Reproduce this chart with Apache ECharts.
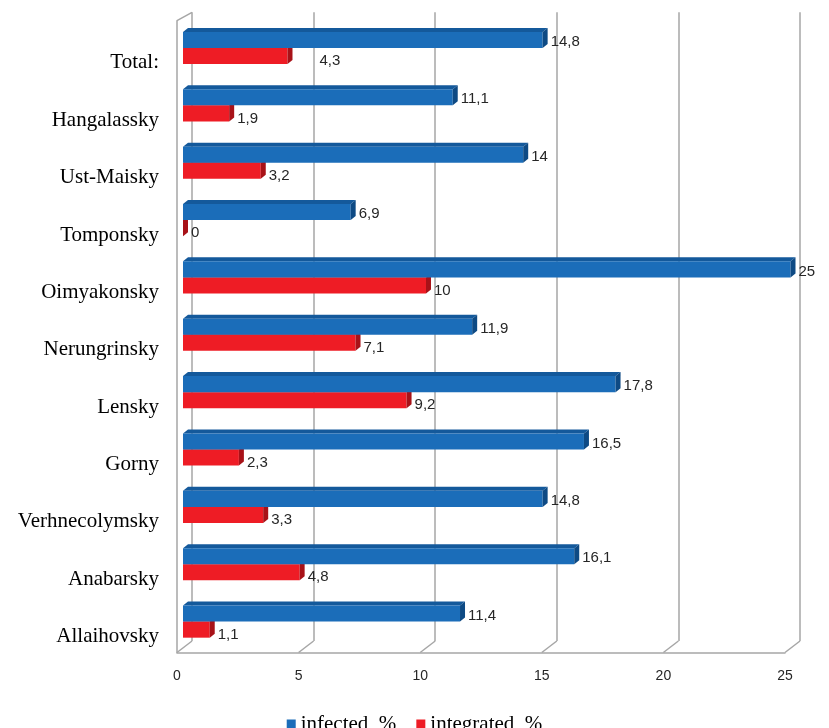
<!DOCTYPE html>
<html>
<head>
<meta charset="utf-8">
<script src="https://cdn.jsdelivr.net/npm/echarts@6/dist/echarts.min.js"></script>
<style>
  html, body { margin: 0; padding: 0; background: #fff; }
  #chart { width: 829px; height: 728px; }
</style>
</head>
<body>
<div id="chart"></div>
<script>
// Districts, top to bottom
const categories = ['Total:', 'Hangalassky', 'Ust-Maisky', 'Tomponsky', 'Oimyakonsky',
  'Nerungrinsky', 'Lensky', 'Gorny', 'Verhnecolymsky', 'Anabarsky', 'Allaihovsky'];
// Share of infected, %
const infected = [14.8, 11.1, 14, 6.9, 25, 11.9, 17.8, 16.5, 14.8, 16.1, 11.4];
// Share of integrated, %
const integrated = [4.3, 1.9, 3.2, 0, 10, 7.1, 9.2, 2.3, 3.3, 4.8, 1.1];
// Value axis
const axisMin = 0, axisMax = 25, axisStep = 5;
const seriesNames = ['infected, %', 'integrated, %'];

// Horizontal nudge (px) for value labels that sit apart from their bar end
const labelNudge = { integrated: { 'Total:': 24 } };

const DX = 5, DY = 4;          // depth of the extruded bars
const BAR_FRAC = 0.28;         // bar thickness as share of a category band
const gridColor = '#a6a6a6';
const serif = '"Liberation Serif", "Times New Roman", serif';
const sans = '"Liberation Sans", Arial, sans-serif';

const blue = { front: '#1b6db9', top: '#14599b', side: '#0e4a84' };
const red = { front: '#ee1c25', top: '#c4161d', side: '#a81218' };

function fmt(v) { return String(v).replace('.', ','); }

function bar3D(colors, upper, nudge, labelDy) {
  return function (params, api) {
    const v = api.value(0), c = api.value(1);
    const p0 = api.coord([0, c]);
    const p1 = api.coord([v, c]);
    const h = api.size([0, 1])[1] * BAR_FRAC;
    const yTop = upper ? p0[1] - h : p0[1];
    const yBot = yTop + h;
    const x0 = p0[0], x1 = p1[0];
    const extra = nudge[categories[c]] || 0;
    return {
      type: 'group',
      children: [
        { type: 'polygon', shape: { points: [[x0, yTop], [x1, yTop], [x1 + DX, yTop - DY], [x0 + DX, yTop - DY]] },
          style: { fill: colors.top } },
        { type: 'rect', shape: { x: x0, y: yTop, width: Math.max(0, x1 - x0), height: h },
          style: { fill: colors.front } },
        { type: 'polygon', shape: { points: [[x1, yTop], [x1 + DX, yTop - DY], [x1 + DX, yBot - DY], [x1, yBot]] },
          style: { fill: colors.side } },
        { type: 'text', x: x1 + DX + 3 + extra, y: yTop + h / 2 + labelDy,
          style: { text: fmt(v), fill: '#262626', font: '15px ' + sans,
                   textAlign: 'left', textVerticalAlign: 'middle' } }
      ]
    };
  };
}

const chart = echarts.init(document.getElementById('chart'));

chart.setOption({
  animation: false,
  backgroundColor: '#fff',
  legend: {
    data: seriesNames,
    left: 'center',
    top: 708,
    icon: 'rect',
    itemWidth: 9,
    itemHeight: 9,
    itemGap: 20,
    textStyle: { fontFamily: serif, fontSize: 21, color: '#000', lineHeight: 22 }
  },
  grid: [
    // back wall
    { left: 192, width: 608, top: 12.3, height: 628.7 },
    // bars
    { left: 183, width: 607.5, top: 19.3, height: 631 },
    // front edge of floor and side wall
    { left: 177, width: 608, top: 20.7, height: 631.8 },
    // category names along the front of the floor
    { left: 183, width: 607.5, top: 34.3, height: 631 }
  ],
  xAxis: [
    { gridIndex: 0, type: 'value', min: axisMin, max: axisMax, interval: axisStep,
      axisLine: { show: false }, axisTick: { show: false }, axisLabel: { show: false },
      splitLine: { show: true, lineStyle: { color: gridColor, width: 1.5 } } },
    { gridIndex: 1, type: 'value', min: axisMin, max: axisMax, interval: axisStep,
      axisLine: { show: false }, axisTick: { show: false }, axisLabel: { show: false },
      splitLine: { show: false } },
    { gridIndex: 2, type: 'value', min: axisMin, max: axisMax, interval: axisStep,
      axisLine: { show: true, lineStyle: { color: gridColor, width: 1.5 } },
      axisTick: { show: false },
      axisLabel: { margin: 17, color: '#262626', fontSize: 14, fontFamily: sans },
      splitLine: { show: false } },
    { gridIndex: 3, type: 'value', min: axisMin, max: axisMax, show: false }
  ],
  yAxis: [
    { gridIndex: 0, type: 'value', min: 0, max: 1, show: false },
    { gridIndex: 1, type: 'category', data: categories, inverse: true, show: false },
    { gridIndex: 2, type: 'value', min: 0, max: 1,
      axisLine: { show: true, lineStyle: { color: gridColor, width: 1.5 } },
      axisTick: { show: false }, axisLabel: { show: false }, splitLine: { show: false } },
    { gridIndex: 3, type: 'category', data: categories, inverse: true,
      axisLine: { show: false }, axisTick: { show: false },
      axisLabel: { margin: 24, color: '#000', fontSize: 21, fontFamily: serif } }
  ],
  series: [
    { name: seriesNames[1], type: 'custom', xAxisIndex: 1, yAxisIndex: 1, z: 2,
      itemStyle: { color: red.front },
      renderItem: bar3D(red, false, labelNudge.integrated, 5),
      data: integrated.map((v, i) => [v, i]) },
    { name: seriesNames[0], type: 'custom', xAxisIndex: 1, yAxisIndex: 1, z: 3,
      itemStyle: { color: blue.front },
      renderItem: bar3D(blue, true, {}, 2),
      data: infected.map((v, i) => [v, i]) }
  ]
});

// Floor diagonals and the top edge of the side wall, placed through the axes
const edges = [];
for (let v = axisMin; v <= axisMax; v += axisStep) {
  const back = chart.convertToPixel({ gridIndex: 0 }, [v, 0]);
  const front = chart.convertToPixel({ gridIndex: 2 }, [v, 0]);
  edges.push({ type: 'line', shape: { x1: back[0], y1: back[1], x2: front[0], y2: front[1] },
    style: { stroke: gridColor, lineWidth: 1.5 }, z: 0 });
}
const backTop = chart.convertToPixel({ gridIndex: 0 }, [axisMin, 1]);
const frontTop = chart.convertToPixel({ gridIndex: 2 }, [axisMin, 1]);
edges.push({ type: 'line', shape: { x1: backTop[0], y1: backTop[1], x2: frontTop[0], y2: frontTop[1] },
  style: { stroke: gridColor, lineWidth: 1.5 }, z: 0 });
chart.setOption({ graphic: edges });
</script>
</body>
</html>
